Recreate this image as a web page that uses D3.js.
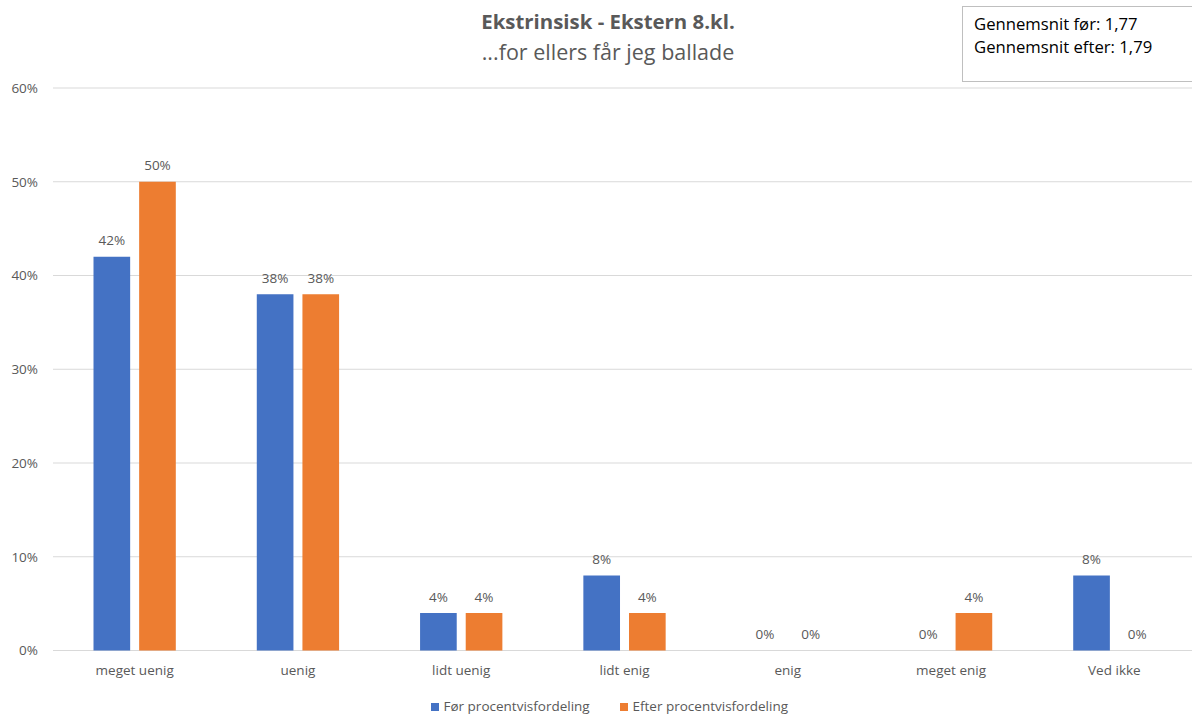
<!DOCTYPE html>
<html>
<head>
<meta charset="utf-8">
<script src="https://cdn.jsdelivr.net/npm/d3@7"></script>
<style>
  html, body { margin: 0; padding: 0; background: #fff; }
  svg { display: block; font-family: "Open Sans", sans-serif; }
</style>
</head>
<body>
<svg id="chart" width="1192" height="716"></svg>
<script>
// Survey answers, share of pupils per answer before and after
const categories = ["meget uenig", "uenig", "lidt uenig", "lidt enig", "enig", "meget enig", "Ved ikke"];
const forValues = [42, 38, 4, 8, 0, 0, 8];
const efterValues = [50, 38, 4, 4, 0, 4, 0];
const seriesNames = ["Før procentvisfordeling", "Efter procentvisfordeling"];
const seriesColors = ["#4472C4", "#ED7D31"];
const yTicks = [0, 10, 20, 30, 40, 50, 60];
const titleText = "Ekstrinsisk - Ekstern 8.kl.";
const subtitleText = "...for ellers får jeg ballade";
const infoLines = ["Gennemsnit før: 1,77", "Gennemsnit efter: 1,79"];

const svg = d3.select("#chart");
const textColor = "#595959";
const smallFont = "13.5px";

const x = d3.scaleBand().domain(categories).range([53, 1196]);
const inner = d3.scaleBand().domain([0, 1]).range([40.5, 122.8]).paddingInner(0.197).paddingOuter(0);
const y = d3.scaleLinear().domain([0, 60]).range([650.5, 88]);

// Gridlines
svg.append("g")
  .selectAll("line")
  .data(yTicks)
  .join("line")
  .attr("x1", 53).attr("x2", 1192)
  .attr("y1", d => y(d)).attr("y2", d => y(d))
  .attr("stroke", "#d9d9d9").attr("stroke-width", 1);

// Y axis labels
const yAxis = d3.axisLeft(y).tickValues(yTicks).tickFormat(d => d + "%").tickSize(0).tickPadding(0);
const yg = svg.append("g").attr("transform", "translate(38,0)").call(yAxis);
yg.select(".domain").remove();
yg.selectAll("text").attr("fill", textColor).style("font-size", smallFont).style("font-family", "'Open Sans', sans-serif");

// X axis labels
const xAxis = d3.axisBottom(x).tickSize(0).tickPadding(0);
const xg = svg.append("g").attr("transform", "translate(0,665)").call(xAxis);
xg.select(".domain").remove();
xg.selectAll("text").attr("fill", textColor).style("font-size", smallFont).style("font-family", "'Open Sans', sans-serif");

// Bars with value labels
const series = [forValues, efterValues];
series.forEach((vals, si) => {
  const g = svg.append("g");
  g.selectAll("rect")
    .data(vals)
    .join("rect")
    .attr("x", (d, i) => x(categories[i]) + inner(si))
    .attr("width", inner.bandwidth())
    .attr("y", d => y(d))
    .attr("height", d => y(0) - y(d))
    .attr("fill", seriesColors[si]);
  g.selectAll("text")
    .data(vals)
    .join("text")
    .attr("x", (d, i) => x(categories[i]) + inner(si) + inner.bandwidth() / 2)
    .attr("y", d => y(d) - 11.5)
    .attr("text-anchor", "middle")
    .attr("fill", textColor)
    .style("font-size", smallFont)
    .text(d => d + "%");
});

// Title
svg.append("text")
  .attr("x", 608).attr("y", 29)
  .attr("text-anchor", "middle")
  .attr("fill", textColor)
  .style("font-size", "20.4px").style("font-weight", "bold")
  .text(titleText);
svg.append("text")
  .attr("x", 608).attr("y", 60)
  .attr("text-anchor", "middle")
  .attr("fill", textColor)
  .style("font-size", "21.5px")
  .text(subtitleText);

// Info box
svg.append("rect")
  .attr("x", 962.5).attr("y", 6.5).attr("width", 240).attr("height", 75)
  .attr("fill", "#fff").attr("stroke", "#bfbfbf").attr("stroke-width", 1);
svg.append("g")
  .selectAll("text")
  .data(infoLines)
  .join("text")
  .attr("x", 974).attr("y", (d, i) => 30 + i * 23)
  .attr("fill", "#000")
  .style("font-size", "16.7px")
  .text(d => d);

// Legend
const legendX = [431, 620];
const lg = svg.append("g");
seriesNames.forEach((name, i) => {
  lg.append("rect")
    .attr("x", legendX[i]).attr("y", 703)
    .attr("width", 8).attr("height", 8)
    .attr("fill", seriesColors[i]);
  lg.append("text")
    .attr("x", legendX[i] + 12.5).attr("y", 710.5)
    .attr("fill", textColor)
    .style("font-size", smallFont)
    .text(name);
});
</script>
</body>
</html>
